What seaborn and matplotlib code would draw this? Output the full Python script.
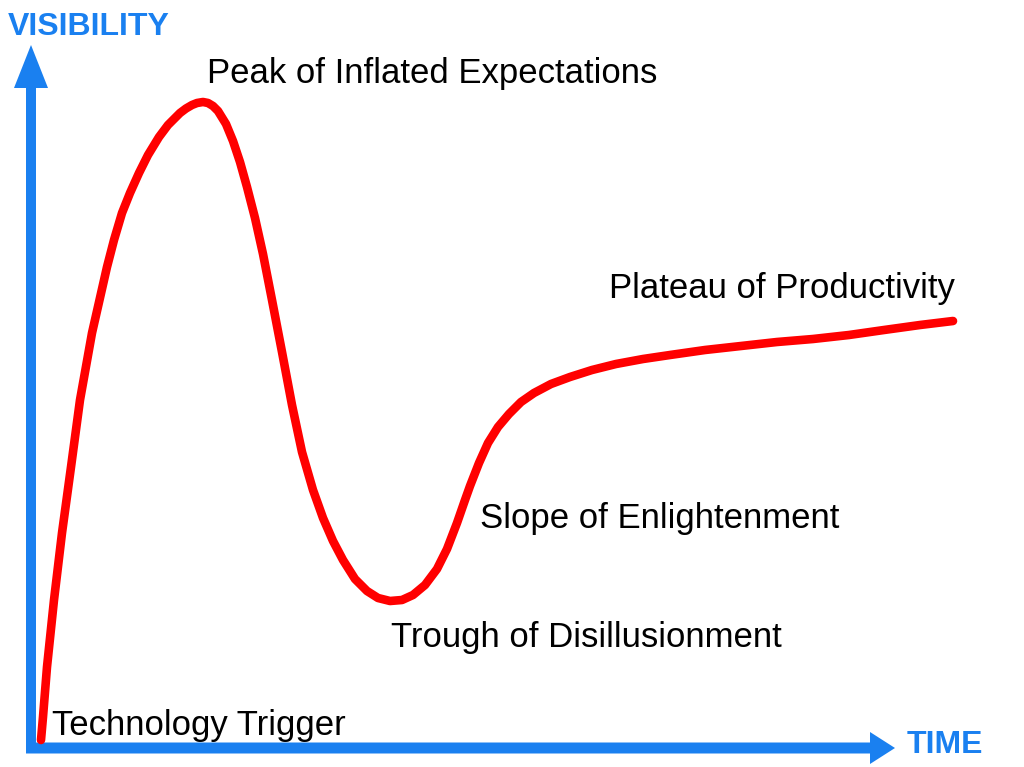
import matplotlib
matplotlib.use("Agg")
import matplotlib.pyplot as plt
import seaborn as sns
import pandas as pd
from matplotlib.patches import FancyArrow

sns.set_theme(style="white")
plt.rcParams['font.family'] = ['Liberation Sans', 'DejaVu Sans']

# Hype-cycle curve (time, visibility)
time = [10, 12, 16, 23, 31, 40, 49, 61, 76, 83, 91, 99,
        108, 117, 128, 137, 149, 155, 161, 166, 172, 177, 182, 187,
        195, 202, 209, 216, 224, 232, 241, 251, 261, 271,
        282, 292, 302, 312, 324, 336, 347, 359, 371, 382,
        394, 406, 416, 426, 434, 439, 448, 457, 467, 478,
        490, 503, 520, 539, 561, 585, 612, 639, 674, 710,
        746, 782, 818, 853, 889, 922]
visibility = [8, 31, 81, 148, 215, 281, 348, 415, 481, 508, 535, 555,
              575, 593, 611, 623, 635, 639.5, 643, 645, 646, 645, 642, 637,
              624, 607, 586, 561, 530, 494, 448, 396, 343, 296,
              258, 230, 207, 188, 169, 157, 150, 147, 148, 153,
              163, 179, 199, 225, 248, 262, 285, 305, 321, 334,
              346, 355, 364, 371, 378, 384, 389, 393, 398, 402,
              406, 409, 413, 418, 423, 427]

phase_labels = ["Technology Trigger", "Peak of Inflated Expectations",
                "Trough of Disillusionment", "Slope of Enlightenment",
                "Plateau of Productivity"]
label_time = [21, 176, 360, 449, 578]
label_vis = [13, 665, 101, 220, 450]

x_title = "TIME"
y_title = "VISIBILITY"

BLUE = "#1a80f0"
RED = "#ff0000"

fig = plt.figure(figsize=(10.24, 7.67), dpi=100)
ax = fig.add_axes([0, 0, 1, 1])
ax.set_xlim(-31, 993)
ax.set_ylim(-19, 748)
ax.axis("off")

df = pd.DataFrame({"time": time, "visibility": visibility})
sns.lineplot(data=df, x="time", y="visibility", sort=False, ax=ax,
             color=RED, linewidth=6.2, solid_capstyle="round",
             solid_joinstyle="round")

# axis arrows
ax.add_patch(FancyArrow(0, -5, 0, 708, width=10, head_width=34,
                        head_length=43, length_includes_head=True,
                        color=BLUE, linewidth=0))
ax.add_patch(FancyArrow(-5, 0, 869, 0, width=11, head_width=32,
                        head_length=25, length_includes_head=True,
                        color=BLUE, linewidth=0))

for lab, tx, vy in zip(phase_labels, label_time, label_vis):
    ax.text(tx, vy, lab, fontsize=25, color="black", ha="left", va="baseline")

ax.text(-23, 713, y_title, fontsize=23, fontweight="bold", color=BLUE,
        ha="left", va="baseline")
ax.text(876, -5, x_title, fontsize=23, fontweight="bold", color=BLUE,
        ha="left", va="baseline")

fig.savefig("out.png", dpi=100)
